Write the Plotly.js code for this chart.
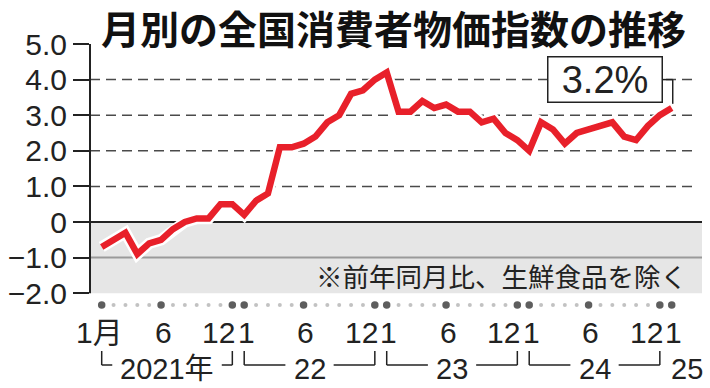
<!DOCTYPE html>
<html>
<head>
<meta charset="utf-8">
<script src="https://cdn.plot.ly/plotly-3.0.1.min.js"></script>
<style>html,body{margin:0;padding:0;background:#fff;}#chart{width:710px;height:388px;}</style>
</head>
<body>
<div id="chart"></div>
<script>
// ---------- data ----------
const categories = [
  '2021-01','2021-02','2021-03','2021-04','2021-05','2021-06','2021-07','2021-08','2021-09','2021-10','2021-11','2021-12',
  '2022-01','2022-02','2022-03','2022-04','2022-05','2022-06','2022-07','2022-08','2022-09','2022-10','2022-11','2022-12',
  '2023-01','2023-02','2023-03','2023-04','2023-05','2023-06','2023-07','2023-08','2023-09','2023-10','2023-11','2023-12',
  '2024-01','2024-02','2024-03','2024-04','2024-05','2024-06','2024-07','2024-08','2024-09','2024-10','2024-11','2024-12',
  '2025-01'
];
const cpi = [
  -0.7,-0.5,-0.3,-0.9,-0.6,-0.5,-0.2,0.0,0.1,0.1,0.5,0.5,
  0.2,0.6,0.8,2.1,2.1,2.2,2.4,2.8,3.0,3.6,3.7,4.0,
  4.2,3.1,3.1,3.4,3.2,3.3,3.1,3.1,2.8,2.9,2.5,2.3,
  2.0,2.8,2.6,2.2,2.5,2.6,2.7,2.8,2.4,2.3,2.7,3.0,
  3.2
];
const tickCats  = ['2021-01','2021-06','2021-12','2022-01','2022-06','2022-12','2023-01','2023-06','2023-12','2024-01','2024-06','2024-12','2025-01'];
const tickTexts = ['1月','6','12','1','6','12','1','6','12','1','6','12','1'];
const yearLabels = ['2021年','22','23','24','25'];
const yearStarts = ['2021-01','2022-01','2023-01','2024-01','2025-01'];
const yearEnds   = ['2021-12','2022-12','2023-12','2024-12',null];
const yTickVals  = [5,4,3,2,1,0,-1,-2];
const yTickTexts = ['5.0','4.0','3.0','2.0','1.0','0','−1.0','−2.0'];
const gridVals = [1,2,3,4];
const latestLabel = '3.2%';
const noteText = '※前年同月比、生鮮食品を除く';
const titleText = '月別の全国消費者物価指数の推移';

// ---------- layout helpers ----------
const W = 710, H = 388;
const M = {l: 90, r: 8, t: 44, b: 77};
const xRange = [-0.985, 50.55];
const yRange = [-2.5, 5];
const yAxisMin = -2, yAxisMax = 5;
const plotW = W - M.l - M.r, plotH = H - M.t - M.b;
const pxPerIdx = plotW / (xRange[1] - xRange[0]);
const pxPerUnit = plotH / (yRange[1] - yRange[0]);
const bottomPx = H - M.b;
const pyPaper = px => -(px - bottomPx) / plotH;   // page pixel -> paper y

const DARK = '#222';
const RED = '#e8202a';
const LATIN = '"Liberation Sans", Arial, "Noto Sans CJK JP", sans-serif';
const CJK = '"Noto Sans CJK JP", "Liberation Sans", sans-serif';

const idx = c => categories.indexOf(c);

const canvas = document.createElement('canvas');
const ctx = canvas.getContext('2d');
function textW(txt, size, fam) { ctx.font = size + 'px ' + fam; return ctx.measureText(txt).width; }

// ---------- traces ----------
const halo = {
  x: categories, y: cpi, type: 'scatter', mode: 'lines',
  line: {color: '#ffffff', width: 11.5, shape: 'linear'}, hoverinfo: 'skip'
};
const line = {
  x: categories, y: cpi, type: 'scatter', mode: 'lines',
  line: {color: RED, width: 6.5, shape: 'linear'}, hoverinfo: 'skip'
};
const dotY = yAxisMin - 11.7 / pxPerUnit;
const dots = {
  x: categories, y: categories.map(() => dotY), type: 'scatter', mode: 'markers',
  hoverinfo: 'skip',
  marker: {
    size: categories.map(c => tickCats.includes(c) ? 7.5 : 4),
    color: categories.map(c => tickCats.includes(c) ? '#1a1a1a' : '#a8a8a8'),
    line: {width: 0}
  }
};

// ---------- shapes ----------
const shapes = [];
shapes.push({type: 'rect', xref: 'paper', yref: 'y', x0: 0, x1: 1, y0: yAxisMin, y1: 0,
  fillcolor: '#e6e6e6', line: {width: 0}, layer: 'below'});
shapes.push({type: 'line', xref: 'paper', yref: 'y', x0: 0, x1: 1, y0: -1, y1: -1,
  line: {color: '#9a9a9a', width: 2}, layer: 'below'});
shapes.push({type: 'line', xref: 'paper', yref: 'y', x0: 0, x1: 1, y0: 0, y1: 0,
  line: {color: DARK, width: 2}, layer: 'below'});
gridVals.forEach(v => shapes.push({type: 'line', xref: 'paper', yref: 'y', x0: 0, x1: 0.985, y0: v, y1: v,
  line: {color: '#4a4a4a', width: 1.5, dash: '10px,6px'}, layer: 'below'}));
// y axis line from -2 to 5
shapes.push({type: 'line', xref: 'paper', yref: 'y', x0: 0, x1: 0, y0: yAxisMin, y1: yAxisMax,
  line: {color: DARK, width: 2}});

// year brackets
const brTop = pyPaper(351);
const brBot = pyPaper(365);
const yearY = pyPaper(369);
const annotations = [];
yearLabels.forEach((lab, i) => {
  const a = idx(yearStarts[i]);
  if (yearEnds[i] === null) {
    annotations.push({xref: 'x', yref: 'paper', x: a, y: yearY, text: lab, showarrow: false,
      xanchor: 'left', yanchor: 'middle', xshift: -3, font: {family: LATIN, size: 29, color: DARK}});
    return;
  }
  const b = idx(yearEnds[i]);
  const c = (a + b) / 2;
  const hw = (textW(lab, 29, LATIN) / 2 + 8) / pxPerIdx;
  const ln = {color: DARK, width: 1.5};
  shapes.push({type: 'line', xref: 'x', yref: 'paper', x0: a, x1: a, y0: brTop, y1: brBot, line: ln});
  shapes.push({type: 'line', xref: 'x', yref: 'paper', x0: a, x1: c - hw, y0: brBot, y1: brBot, line: ln});
  shapes.push({type: 'line', xref: 'x', yref: 'paper', x0: c + hw, x1: b, y0: brBot, y1: brBot, line: ln});
  shapes.push({type: 'line', xref: 'x', yref: 'paper', x0: b, x1: b, y0: brTop, y1: brBot, line: ln});
  annotations.push({xref: 'x', yref: 'paper', x: c, y: yearY, text: lab, showarrow: false,
    xanchor: 'center', yanchor: 'middle', font: {family: LATIN, size: 29, color: DARK}});
});

// month labels
const monthY = pyPaper(332);
tickCats.forEach((c, i) => {
  const t = tickTexts[i];
  let xanchor = 'center', xshift = 2;
  if (t === '12') { xanchor = 'right'; xshift = 5; }
  if (i === 0) { xshift = -2; }
  annotations.push({xref: 'x', yref: 'paper', x: idx(c), y: monthY, text: t, showarrow: false,
    xanchor: xanchor, yanchor: 'middle', xshift: xshift, font: {family: LATIN, size: 30, color: DARK}});
});

// note
annotations.push({xref: 'paper', yref: 'y', x: (689 - M.l) / plotW, y: -1.5, text: noteText, showarrow: false,
  xanchor: 'right', yanchor: 'middle', font: {family: CJK, size: 26.5, color: DARK}});

// latest value box + connector
const last = categories.length - 1;
const boxY = gridVals[gridVals.length - 1];
annotations.push({xref: 'x', yref: 'y', x: last, y: boxY, text: latestLabel, showarrow: false,
  xanchor: 'right', yanchor: 'middle', xshift: -9,
  width: 111, height: 42, borderpad: 1, borderwidth: 1.5, bordercolor: DARK, bgcolor: '#ffffff',
  font: {family: LATIN, size: 38, color: DARK}});
shapes.push({type: 'line', xref: 'x', yref: 'y', xsizemode: 'pixel', xanchor: last, x0: -9, x1: 1,
  y0: boxY, y1: boxY, line: {color: DARK, width: 1.5}});
shapes.push({type: 'line', xref: 'x', yref: 'y', xsizemode: 'pixel', xanchor: last, x0: 1, x1: 1,
  y0: boxY, y1: cpi[last] + 0.12, line: {color: DARK, width: 1.5}});

const layout = {
  width: W, height: H, margin: M,
  paper_bgcolor: '#ffffff', plot_bgcolor: '#ffffff',
  showlegend: false, hovermode: false,
  title: {text: titleText, xref: 'container', yref: 'container', x: 101 / W, xanchor: 'left',
    y: 1 - 30 / H, yanchor: 'middle', font: {family: CJK, size: 39, color: '#111', weight: 'bold'}},
  xaxis: {type: 'category', categoryorder: 'array', categoryarray: categories, range: xRange,
    showticklabels: false, ticks: '', showline: false, showgrid: false, zeroline: false, fixedrange: true},
  yaxis: {range: yRange, tickmode: 'array', tickvals: yTickVals, ticktext: yTickTexts,
    ticks: 'outside', ticklen: 16, tickwidth: 2, tickcolor: DARK,
    showline: false, showgrid: false, zeroline: false,
    tickfont: {family: LATIN, size: 30, color: DARK}, fixedrange: true},
  shapes: shapes, annotations: annotations
};

Plotly.newPlot('chart', [halo, line, dots], layout, {staticPlot: true, displayModeBar: false});
</script>
</body>
</html>
